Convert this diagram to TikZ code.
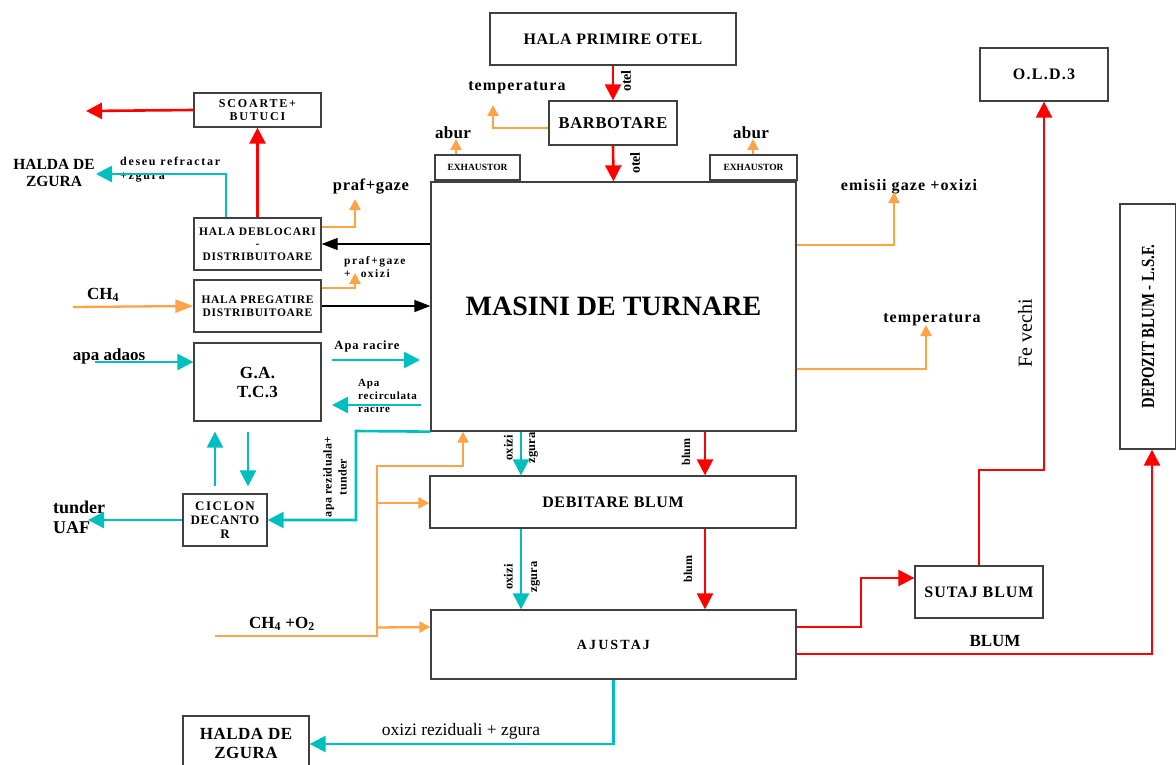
\documentclass[tikz,border=0pt]{standalone}
\usepackage{fontspec}
\setmainfont{Liberation Serif}
\usetikzlibrary{arrows.meta}
\definecolor{flowred}{RGB}{255,0,0}
\definecolor{flowcyan}{RGB}{0,191,191}
\definecolor{floworange}{RGB}{255,163,71}
\definecolor{boxline}{RGB}{64,64,64}
% font size in pt with matching baseline skip
\newcommand{\fs}[1]{\fontsize{#1}{#1}\selectfont}
% letter-spaced text
\newcommand{\lsp}[2]{{\addfontfeatures{LetterSpace=#1}#2}}
\tikzset{
  box/.style={draw=boxline, line width=1.3pt, fill=white, align=center,
    inner sep=1pt, font=\bfseries},
  lbl/.style={font=\bfseries, inner sep=0pt, align=center},
  redarr/.style={draw=flowred, line width=2.6pt,
    -{Triangle[length=16pt,width=16pt]}},
  cyanarr/.style={draw=flowcyan, line width=2.6pt,
    -{Triangle[length=16pt,width=16pt]}},
  orarr/.style={draw=floworange, line width=2.3pt,
    -{Triangle[length=11pt,width=11pt]}},
  orbig/.style={draw=floworange, line width=2.3pt,
    -{Triangle[length=18pt,width=13pt]}},
  blkarr/.style={draw=black, line width=1.3pt,
    -{Triangle[length=16pt,width=12pt]}},
}
\begin{document}
\begin{tikzpicture}[x=1pt,y=-1pt]
\useasboundingbox (0,0) rectangle (1176,765);

% ---------- process blocks ----------
\node[box, minimum width=246, minimum height=52, font=\bfseries\fs{16}] (hpo) at (613,39) {\lsp{4}{HALA PRIMIRE OTEL}};
\node[box, minimum width=128, minimum height=44, font=\bfseries\fs{16.5}] (barb) at (613,123) {\lsp{4}{BARBOTARE}};
\node[box, minimum width=85, minimum height=25, font=\bfseries\fs{9.5}] (exL) at (477.5,167.5) {EXHAUSTOR};
\node[box, minimum width=87, minimum height=25, font=\bfseries\fs{9.5}] (exR) at (753.5,167.5) {EXHAUSTOR};
\node[box, minimum width=365, minimum height=249, font=\bfseries\fs{28}] (mdt) at (613.5,306.5) {MASINI DE TURNARE};
\node[box, minimum width=128, minimum height=53, font=\bfseries\fs{16}] (old) at (1044,74.5) {\lsp{8}{O.L.D.3}};
\node[box, minimum width=56, minimum height=245] (dep) at (1148,326.5) {};
\node[lbl, rotate=90, font=\bfseries\fs{18.5}] (depT) at (dep.center) {\addfontfeatures{FakeStretch=0.8}DEPOZIT BLUM - L.S.F.};
\node[box, minimum width=127, minimum height=34, font=\bfseries\fs{12}] (scoarte) at (257.5,110) {\lsp{15}{SCOARTE+}\\[1pt]\lsp{15}{BUTUCI}};
\node[box, minimum width=127, minimum height=52, font=\bfseries\fs{11.5}] (deb) at (257.5,244) {\lsp{8}{HALA DEBLOCARI}\\[1pt]-\\[1pt]\lsp{6}{DISTRIBUITOARE}};
\node[box, minimum width=127, minimum height=52, font=\bfseries\fs{11.5}] (preg) at (257.5,306) {\lsp{6}{HALA PREGATIRE}\\[1pt]\lsp{6}{DISTRIBUITOARE}};
\node[box, minimum width=127, minimum height=78, font=\bfseries\fs{17}] (ga) at (257.5,382) {\lsp{2}{G.A.}\\[2pt]\lsp{2}{T.C.3}};
\node[box, minimum width=84, minimum height=52, font=\bfseries\fs{13}] (ciclon) at (225,520) {\lsp{12}{CICLON}\\[1pt]\lsp{5}{DECANTO}\\[1pt]R};
\node[box, minimum width=366, minimum height=52, font=\bfseries\fs{16}] (debit) at (613,502) {\lsp{4}{DEBITARE BLUM}};
\node[box, minimum width=365, minimum height=69, font=\bfseries\fs{14}] (ajust) at (613.5,644.5) {\lsp{15}{AJUSTAJ}};
\node[box, minimum width=128, minimum height=52, font=\bfseries\fs{16}] (sutaj) at (979,592) {\lsp{6}{SUTAJ BLUM}};
\node[box, minimum width=126, minimum height=54, font=\bfseries\fs{17}] (halda) at (246,743) {\lsp{3}{HALDA DE}\\[2pt]\lsp{3}{ZGURA}};

% ---------- labels ----------
\node[lbl, font=\bfseries\fs{16}] (tempT) at (517,88) {\lsp{7}{temperatura}};
\node[lbl, font=\bfseries\fs{17}] (aburL) at (453,133) {\lsp{2}{abur}};
\node[lbl, font=\bfseries\fs{17}] (aburR) at (751,133) {\lsp{2}{abur}};
\node[lbl, font=\bfseries\fs{15.5}] (haldaL) at (54,173) {HALDA DE\\[1pt]ZGURA};
\node[lbl, font=\bfseries\fs{12}, align=left, anchor=west] (deseu) at (120,170) {\lsp{14}{deseu refractar}\\[2pt]\lsp{14}{+zgura}};
\node[lbl, font=\bfseries\fs{16.5}] (praf1) at (371,187) {\lsp{4}{praf+gaze}};
\node[lbl, font=\bfseries\fs{11.5}, align=left, anchor=west] (praf2) at (344,267) {\lsp{13}{praf+gaze}\\[1pt]+\hspace{10pt}\lsp{13}{oxizi}};
\node[lbl, font=\bfseries\fs{17}] (ch4) at (103,295) {CH\textsubscript{4}};
\node[lbl, font=\bfseries\fs{17}] (adaos) at (109,356) {apa adaos};
\node[lbl, font=\bfseries\fs{12.5}] (racire) at (367,346) {\lsp{8}{Apa racire}};
\node[lbl, font=\bfseries\fs{11}, align=left, anchor=west] (recirc) at (358,396) {\lsp{7}{Apa}\\[2pt]\lsp{7}{recirculata}\\[2pt]\lsp{7}{racire}};
\node[lbl, font=\bfseries\fs{18}, align=left, anchor=west] (uaf) at (53,517) {tunder\\[2pt]UAF};
\node[lbl, font=\bfseries\fs{12}, rotate=90] (rezid) at (335,477) {\lsp{3}{apa reziduala+}\\[3pt]\lsp{3}{tunder}};
\node[lbl, font=\bfseries\fs{16}] (emisii) at (909,187) {\lsp{7}{emisii gaze +oxizi}};
\node[lbl, font=\bfseries\fs{16}] (tempR) at (932,320) {\lsp{7}{temperatura}};
\node[lbl, font=\fs{20}, rotate=90] (fe) at (1025,333) {Fe vechi};
\node[lbl, font=\bfseries\fs{17}] (ch4o2) at (282,624) {CH\textsubscript{4} +O\textsubscript{2}};
\node[lbl, font=\bfseries\fs{17}] (blumB) at (995,641) {BLUM};
\node[lbl, font=\fs{17.5}] (rezzg) at (461,731) {oxizi reziduali + zgura};
\node[lbl, font=\bfseries\fs{14}, rotate=90] (otel1) at (626,81) {otel};
\node[lbl, font=\bfseries\fs{14}, rotate=90] (otel2) at (635,163) {otel};
\node[lbl, font=\bfseries\fs{12.5}, rotate=90] (oz1) at (521,448) {oxizi\\[10pt]zgura};
\node[lbl, font=\bfseries\fs{12.5}, rotate=90] (oz2) at (522,577) {oxizi\\[12pt]zgura};
\node[lbl, font=\bfseries\fs{12}, rotate=90] (bl1) at (686,452) {blum};
\node[lbl, font=\bfseries\fs{12}, rotate=90] (bl2) at (688,569) {blum};

% ---------- connector end points ----------
\coordinate (tempTip) at (493,105);
\coordinate (aburLTip) at (456,139);
\coordinate (aburRTip) at (753,139);
\coordinate (emTip) at (894,192);
\coordinate (tempRTip) at (926,325);
\coordinate (praf1Tip) at (355,199);
\coordinate (praf2Tip) at (355,273);
\coordinate (scoarteOut) at (86,111);
\coordinate (haldaLTip) at (96,174);
\coordinate (ch4Start) at (73,307);
\coordinate (adaosStart) at (95,362);
\coordinate (racA) at (332,360);
\coordinate (racB) at (420,360);
\coordinate (recA) at (421,405);
\coordinate (recB) at (332,405);
\coordinate (uafTip) at (88,520);
\coordinate (rezTurn) at (356,431);
\coordinate (gasStart) at (215,636);
\coordinate (gasBus) at (377,636);
\coordinate (gasTop) at (377,466);
\coordinate (gasUp) at (463,466);
\coordinate (scrapBend) at (979,470);
\coordinate (fwdBend) at (861,627);

% ---------- steel line (red) ----------
\draw[redarr] (hpo.south) -- (barb.north);
\draw[redarr] (barb.south) -- (mdt.north);
\draw[redarr] ([xshift=91.5pt]mdt.south) -- ([xshift=92pt]debit.north);
\draw[redarr] ([xshift=92pt]debit.south) -- ([xshift=91.5pt]ajust.north);
\draw[redarr] (deb.north) -- (scoarte.south);
\draw[redarr] (scoarte.west) -- (scoarteOut);
\draw[redarr] ([yshift=17.5pt]ajust.east) -- (fwdBend) |- ([yshift=14pt]sutaj.west);
\draw[redarr] ([yshift=-9.5pt]ajust.east) -| ([xshift=4pt]dep.south);
\draw[redarr] (sutaj.north) -- (scrapBend) -| (old.south);

% ---------- water / slag (cyan) ----------
\draw[cyanarr] ([xshift=-31.5pt]deb.north) |- (haldaLTip);
\draw[cyanarr] (adaosStart) -- ([yshift=20pt]ga.west);
\draw[cyanarr] (racA) -- (racB);
\draw[cyanarr] (recA) -- (recB);
\draw[cyanarr] ([xshift=-10pt,yshift=7pt]ciclon.north) -- ([xshift=-42.5pt,yshift=-10pt]ga.south);
\draw[cyanarr] ([xshift=-9.5pt,yshift=-10pt]ga.south) -- ([xshift=23pt,yshift=7pt]ciclon.north);
\draw[cyanarr] (ciclon.west) -- (uafTip);
\draw[cyanarr] (mdt.south west) -- (rezTurn) |- (ciclon.east);
\draw[cyanarr] ([xshift=-92.5pt]mdt.south) -- ([xshift=-92pt]debit.north);
\draw[cyanarr] ([xshift=-92pt]debit.south) -- ([xshift=-92.5pt]ajust.north);
\draw[cyanarr] (ajust.south) |- ([yshift=-1pt]halda.east);

% ---------- gas / dust (orange) ----------
\draw[orarr] ([yshift=-5pt]barb.west) -| (tempTip);
\draw[orarr] ([xshift=-21.5pt]exL.north) -- (aburLTip);
\draw[orarr] ([xshift=-0.5pt]exR.north) -- (aburRTip);
\draw[orarr] ([yshift=61.5pt]mdt.east) -| (emTip);
\draw[orarr] ([yshift=-62.5pt]mdt.east) -| (tempRTip);
\draw[orarr] ([yshift=17pt]deb.east) -| (praf1Tip);
\draw[orarr] ([yshift=18pt]preg.east) -| (praf2Tip);
\draw[orbig] (ch4Start) -- (preg.west);
\draw[orarr] (gasStart) -- (gasBus) -- (gasTop) -- (gasUp) -- ([xshift=-150.5pt]mdt.south);
\draw[orarr] (gasBus |- debit.west) ++(0,1) -- ([yshift=-1pt]debit.west);
\draw[orarr] (gasBus |- ajust.west) ++(0,-17) -- ([yshift=17.5pt]ajust.west);

% ---------- handling (black) ----------
\draw[blkarr] (mdt.west |- deb.east) -- (deb.east);
\draw[blkarr] (preg.east) -- (mdt.west |- preg.east);
\end{tikzpicture}
\end{document}
